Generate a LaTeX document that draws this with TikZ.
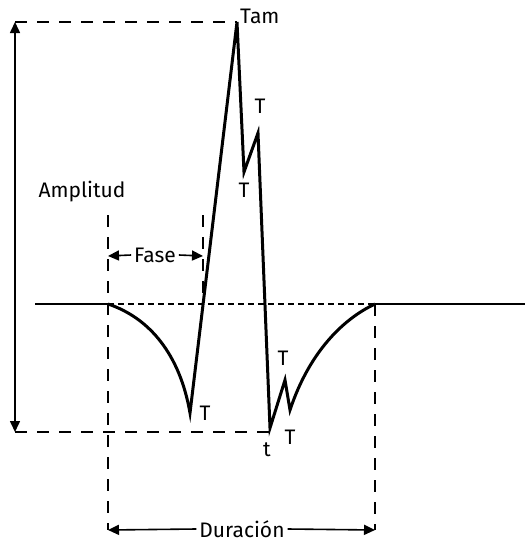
\documentclass[tikz,border=0pt]{standalone}
\usepackage{fontspec}
\setmainfont{Fira Sans}
\usetikzlibrary{arrows.meta}
\begin{document}
\begin{tikzpicture}[x=1pt,y=-1pt,
  wave/.style={line width=3pt,line join=miter},
  guide/.style={line width=1.6pt,dash pattern=on 12pt off 10pt},
  base/.style={line width=1.6pt,dash pattern=on 6pt off 4pt},
  tip/.style={-{Triangle[length=11pt,width=10pt]}},
  dim/.style={line width=1.6pt,{Triangle[length=11pt,width=10pt]}-{Triangle[length=11pt,width=10pt]}},
  lbl/.style={font=\fontsize{21}{24}\selectfont,inner sep=0pt}]
\useasboundingbox (0,0) rectangle (525,542);
% coordinates
\coordinate (L0) at (35,304);
\coordinate (S) at (108,304);
\coordinate (V1) at (190,413);
\coordinate (P) at (237,22);
\coordinate (A) at (244,172);
\coordinate (B) at (258,133);
\coordinate (C) at (270,428);
\coordinate (D) at (285,380);
\coordinate (E) at (290,410);
\coordinate (F) at (375,304);
\coordinate (R) at (525,304);
% baseline
\draw[line width=2.6pt] (L0) -- (S);
\draw[line width=2.6pt] (F) -- (R);
\draw[base] (S) -- (F);
% waveform
\draw[wave] (S) .. controls (150,318) and (180,355) .. (V1) -- (P) -- (A) -- (B) -- (C) -- (D) -- (E) .. controls (310,350) and (345,318) .. (F);
% guides
\coordinate (TL) at (15,22);
\coordinate (BL) at (15,432);
\coordinate (BR) at (270,432);
\draw[guide] (TL) -- (P);
\draw[guide] (BL) -- (BR);
\coordinate (G1t) at (108,215);
\coordinate (G1b) at (108,530);
\coordinate (G2t) at (203,215);
\coordinate (G2b) at (203,304);
\coordinate (G3b) at (375,530);
\draw[guide] (G1t) -- (G1b);
\draw[guide] (G2t) -- (G2b);
\draw[guide] (F) -- (G3b);
% amplitude arrow
\draw[dim] (TL) -- (BL);
% labels
\node[lbl,anchor=west] (tam) at (240,16) {Tam};
\node[lbl] (t1) at (260,106) {T};
\node[lbl] (t2) at (244,190) {T};
\node[lbl] (t3) at (205,413) {T};
\node[lbl] (t4) at (283,358) {T};
\node[lbl] (t5) at (290,437) {T};
\node[lbl] (t6) at (267,450) {t};
\node[lbl] (amp) at (82,192) {Amplitud};
\node[lbl,fill=white,inner xsep=3pt] (fase) at (155,255) {Fase};
\node[lbl,fill=white,inner xsep=3pt] (dur) at (242,529) {Duración};
\coordinate (fa) at (108,256);
\coordinate (fb) at (203,256);
\coordinate (da) at (108,530);
\coordinate (db) at (375,530);
\draw[line width=1.6pt,tip] (fase.west) -- (fa);
\draw[line width=1.6pt,tip] (fase.east) -- (fb);
\draw[line width=1.6pt,tip] (dur.west) -- (da);
\draw[line width=1.6pt,tip] (dur.east) -- (db);
\end{tikzpicture}
\end{document}
